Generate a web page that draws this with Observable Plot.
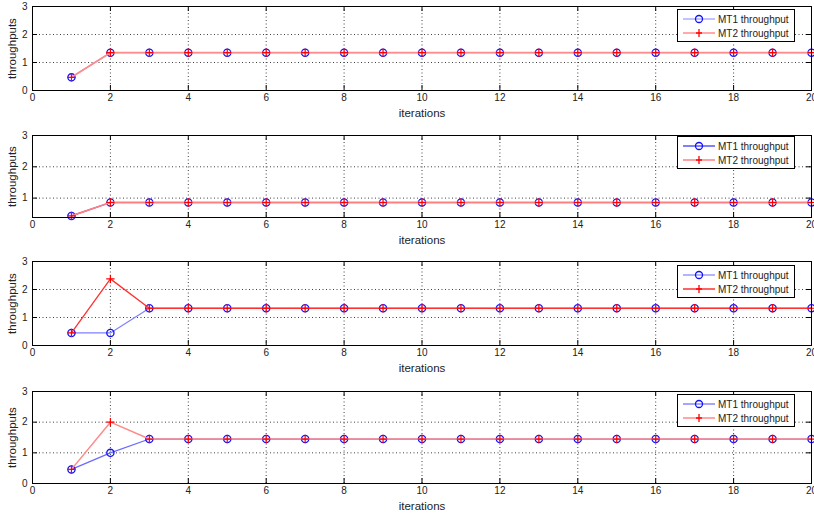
<!DOCTYPE html>
<html><head><meta charset="utf-8">
<script src="https://cdn.jsdelivr.net/npm/d3@7"></script>
<script src="https://cdn.jsdelivr.net/npm/@observablehq/plot@0.6"></script>
<style>
body{margin:0;background:#fff;}
#root{position:relative;width:814px;height:515px;overflow:hidden;background:#fff;}
#root svg.pnl{position:absolute;left:0;}
</style></head><body><div id="root"></div>
<script>
// ---- data ----
const iterations = [1,2,3,4,5,6,7,8,9,10,11,12,13,14,15,16,17,18,19,20];
const xTicks = [0,2,4,6,8,10,12,14,16,18,20];
const seriesNames = ["MT1 throughput", "MT2 throughput"];
const xLabel = "iterations";
const yLabel = "throughputs";

const p1MT1 = [0.47,1.35,1.35,1.35,1.35,1.35,1.35,1.35,1.35,1.35,1.35,1.35,1.35,1.35,1.35,1.35,1.35,1.35,1.35,1.35];
const p1MT2 = [0.47,1.35,1.35,1.35,1.35,1.35,1.35,1.35,1.35,1.35,1.35,1.35,1.35,1.35,1.35,1.35,1.35,1.35,1.35,1.35];
const p2MT1 = [0.43,0.86,0.86,0.86,0.86,0.86,0.86,0.86,0.86,0.86,0.86,0.86,0.86,0.86,0.86,0.86,0.86,0.86,0.86,0.86];
const p2MT2 = [0.43,0.86,0.86,0.86,0.86,0.86,0.86,0.86,0.86,0.86,0.86,0.86,0.86,0.86,0.86,0.86,0.86,0.86,0.86,0.86];
const p3MT1 = [0.45,0.45,1.33,1.33,1.33,1.33,1.33,1.33,1.33,1.33,1.33,1.33,1.33,1.33,1.33,1.33,1.33,1.33,1.33,1.33];
const p3MT2 = [0.45,2.38,1.33,1.33,1.33,1.33,1.33,1.33,1.33,1.33,1.33,1.33,1.33,1.33,1.33,1.33,1.33,1.33,1.33,1.33];
const p4MT1 = [0.46,1.00,1.45,1.45,1.45,1.45,1.45,1.45,1.45,1.45,1.45,1.45,1.45,1.45,1.45,1.45,1.45,1.45,1.45,1.45];
const p4MT2 = [0.46,2.00,1.45,1.45,1.45,1.45,1.45,1.45,1.45,1.45,1.45,1.45,1.45,1.45,1.45,1.45,1.45,1.45,1.45,1.45];

const yTicksA = [0,1,2,3];
const yTicksB = [1,2,3];
const yDomainA = [0,3];
const yDomainB = [0.38,3];

// ---- layout / style (not data) ----
const panels = [
  {mt1:p1MT1, mt2:p1MT2, yTicks:yTicksA, yDomain:yDomainA, top:0,   innerH:84, legendTop:9,  c1:"#9a9aff", c2:"#ff8c8c", w2:1.8},
  {mt1:p2MT1, mt2:p2MT2, yTicks:yTicksB, yDomain:yDomainB, top:129, innerH:82, legendTop:7,  c1:"#2a2aff", c2:"#ff8080", w2:1.8},
  {mt1:p3MT1, mt2:p3MT2, yTicks:yTicksA, yDomain:yDomainA, top:255, innerH:84, legendTop:10, c1:"#8080ff", c2:"#ff3030", w2:1.3},
  {mt1:p4MT1, mt2:p4MT2, yTicks:yTicksA, yDomain:yDomainA, top:385, innerH:92, legendTop:9,  c1:"#6a6aff", c2:"#ff8a8a", w2:1.5}
];
const W = 814, ML = 32, MR = 3, MT = 6, MB = 30;
const innerW = W - ML - MR;
const font = "'Liberation Sans', Arial, sans-serif";
const root = document.getElementById("root");

panels.forEach((p) => {
  const d1 = iterations.map((x, j) => ({x, y: p.mt1[j]}));
  const d2 = iterations.map((x, j) => ({x, y: p.mt2[j]}));
  const [y0, y1] = p.yDomain;
  const gx = xTicks.filter(t => t > 0 && t < 20);
  const gy = p.yTicks.filter(t => t > y0 && t < y1);
  const H = MT + p.innerH + MB;
  const tick = 5;
  const svg = Plot.plot({
    width: W, height: H,
    marginTop: MT, marginBottom: MB, marginLeft: ML, marginRight: MR,
    style: {fontFamily: font, fontSize: "10px", color: "#222", background: "transparent", overflow: "visible"},
    x: {domain: [0, 20], ticks: xTicks, tickFormat: d3.format("d"), tickSize: 0, tickPadding: 3, label: xLabel, labelAnchor: "center", labelArrow: "none", labelOffset: 26},
    y: {domain: p.yDomain, ticks: p.yTicks, tickFormat: d3.format("d"), tickSize: 0, tickPadding: 5, label: yLabel, labelAnchor: "center", labelArrow: "none", labelOffset: 25},
    marks: [
      Plot.ruleX(gx, {stroke: "#000", strokeOpacity: 0.75, strokeDasharray: "1,2.5"}),
      Plot.ruleY(gy, {stroke: "#000", strokeOpacity: 0.75, strokeDasharray: "1,2.5"}),
      Plot.ruleX(xTicks, {stroke: "#000", insetTop: p.innerH - tick}),
      Plot.ruleX(xTicks, {stroke: "#000", insetBottom: p.innerH - tick}),
      Plot.ruleY(p.yTicks, {stroke: "#000", insetRight: innerW - tick}),
      Plot.ruleY(p.yTicks, {stroke: "#000", insetLeft: innerW - tick}),
      Plot.line(d1, {x: "x", y: "y", stroke: p.c1, strokeWidth: 1.2}),
      Plot.dot(d1, {x: "x", y: "y", symbol: "circle", r: 3.6, stroke: "#1010ff", strokeWidth: 1.3, fill: "none"}),
      Plot.line(d2, {x: "x", y: "y", stroke: p.c2, strokeWidth: p.w2}),
      Plot.dot(d2, {x: "x", y: "y", symbol: "plus", r: 2.8, stroke: "#ff0000", strokeWidth: 1.2}),
      Plot.frame({stroke: "#000", strokeWidth: 1})
    ]
  });
  svg.classList.add("pnl");
  svg.style.top = p.top + "px";
  root.appendChild(svg);
  d3.select(svg).selectAll('g[aria-label="x-axis label"], g[aria-label="y-axis label"]').attr("font-size", "11.5px");

  // legend
  const g = d3.select(svg).append("g").attr("font-family", font).attr("font-size", "10px").attr("text-anchor", "start");
  const lx = 677, lw = 117, ly = p.legendTop, lh = 32;
  g.append("rect").attr("x", lx + 0.5).attr("y", ly + 0.5).attr("width", lw).attr("height", lh)
    .attr("fill", "#fff").attr("stroke", "#000").attr("stroke-width", 1);
  const rows = [ly + 10, ly + 24];
  const cols = [p.c1, p.c2];
  rows.forEach((ry, k) => {
    g.append("line").attr("x1", 683).attr("x2", 715).attr("y1", ry).attr("y2", ry)
      .attr("stroke", cols[k]).attr("stroke-width", k === 0 ? 1.2 : 1.5);
    if (k === 0) {
      g.append("circle").attr("cx", 699).attr("cy", ry).attr("r", 3.5)
        .attr("fill", "none").attr("stroke", "#1010ff").attr("stroke-width", 1.3);
    } else {
      g.append("path").attr("d", `M699,${ry-4}V${ry+4}M696,${ry}H702`)
        .attr("stroke", "#ff0000").attr("stroke-width", 1.3);
    }
    g.append("text").attr("x", 718).attr("y", ry).attr("dy", "0.35em").attr("fill", "#222")
      .attr("text-anchor", "start").text(seriesNames[k]);
  });
});
</script>
</body></html>
